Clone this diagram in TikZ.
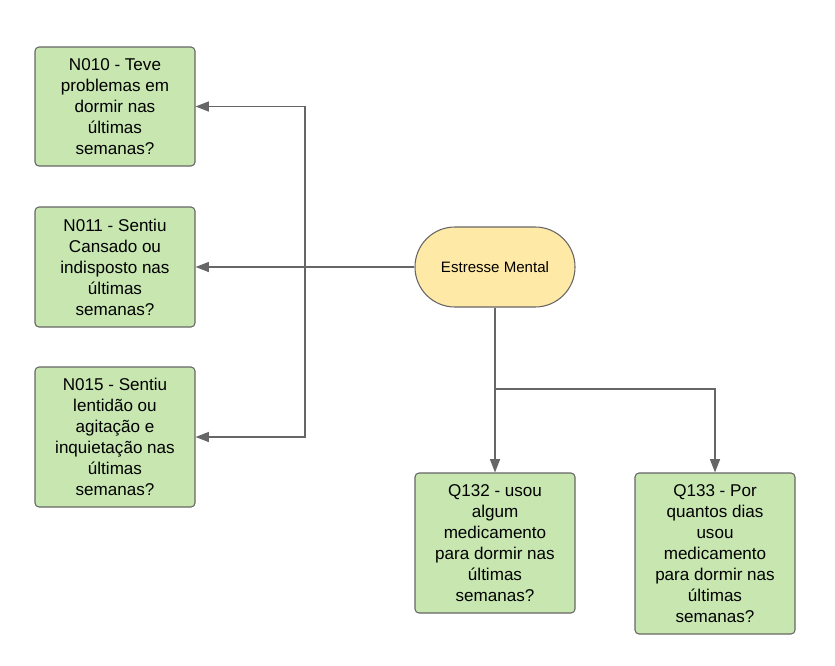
\documentclass[tikz,border=0pt]{standalone}
\usepackage{fontspec}
\setmainfont{Liberation Sans}
\usetikzlibrary{arrows.meta}
\definecolor{boxgreen}{HTML}{C7E6B0}
\definecolor{boxyellow}{HTML}{FFE9A6}
\definecolor{linegray}{HTML}{666666}
\begin{document}
\begin{tikzpicture}[x=0.75pt,y=-0.75pt,
	>={Triangle[length=10pt,width=7.5pt]},
	pergunta/.style={draw=linegray,fill=boxgreen,rounded corners=3pt,line width=0.8pt,
		minimum width=120pt,align=center,font=\fontsize{12.8}{15.75}\selectfont,inner sep=0pt},
	tema/.style={draw=linegray,fill=boxyellow,rounded corners=29.9pt,line width=0.8pt,
		minimum width=120pt,minimum height=60pt,font=\fontsize{11.3}{13}\selectfont},
	seta/.style={->,draw=linegray,line width=1pt}]
	\useasboundingbox (0,0) rectangle (835,665);
	% tema central
	\node[tema] (em) at (495,267) {Estresse Mental};
	% perguntas N
	\node[pergunta,minimum height=89.25pt] (n010) at (115,106.5) {N010 - Teve\\problemas em\\dormir nas\\últimas\\semanas?};
	\node[pergunta,minimum height=90pt] (n011) at (115,267) {N011 - Sentiu\\Cansado ou\\indisposto nas\\últimas\\semanas?};
	\node[pergunta,minimum height=105pt] (n015) at (115,437) {N015 - Sentiu\\lentidão ou\\agitação e\\inquietação nas\\últimas\\semanas?};
	% perguntas Q
	\node[pergunta,minimum height=105pt] (q132) at (495,543) {Q132 - usou\\algum\\medicamento\\para dormir nas\\últimas\\semanas?};
	\node[pergunta,minimum height=120.75pt] (q133) at (715,553.5) {Q133 - Por\\quantos dias\\usou\\medicamento\\para dormir nas\\últimas\\semanas?};
	% ligacoes
	\coordinate (bus) at (305,267);
	\coordinate (ramo) at (495,389);
	\draw[seta] (em.west) -- (n011.east);
	\draw[seta] (bus) |- (n010.east);
	\draw[seta] (bus) |- (n015.east);
	\draw[seta] (em.south) -- (q132.north);
	\draw[seta] (ramo) -| (q133.north);
\end{tikzpicture}
\end{document}
